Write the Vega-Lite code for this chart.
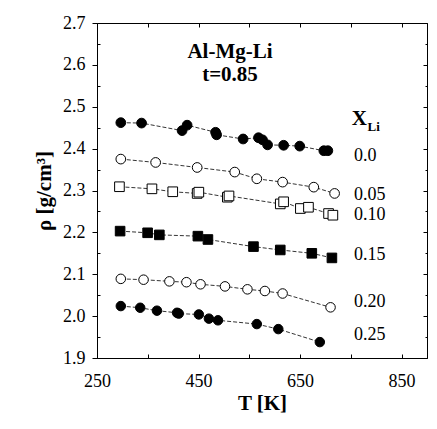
{
  "$schema": "https://vega.github.io/schema/vega-lite/v6.json",
  "autosize": "none",
  "width": 330,
  "height": 335,
  "padding": {"left": 97, "top": 23, "right": 10, "bottom": 71},
  "background": "white",
  "config": {
    "font": "Liberation Serif",
    "view": {"stroke": "black", "strokeWidth": 1},
    "text": {"font": "Liberation Serif"},
    "axis": {"grid": false, "domainColor": "black", "tickColor": "black", "labelColor": "black", "titleColor": "black", "labelFont": "Liberation Serif", "titleFont": "Liberation Serif", "labelFontSize": 18, "titleFontSize": 21, "titleFontWeight": "bold"}
  },
  "datasets": {
    "pts": [
      {"s": "0.0", "T": 296.9, "rho": 2.462},
      {"s": "0.0", "T": 337.8, "rho": 2.461},
      {"s": "0.0", "T": 417.6, "rho": 2.443},
      {"s": "0.0", "T": 427.5, "rho": 2.456},
      {"s": "0.0", "T": 483.6, "rho": 2.439},
      {"s": "0.0", "T": 485.6, "rho": 2.433},
      {"s": "0.0", "T": 537.8, "rho": 2.423},
      {"s": "0.0", "T": 568.1, "rho": 2.426},
      {"s": "0.0", "T": 576.0, "rho": 2.421},
      {"s": "0.0", "T": 586.0, "rho": 2.409},
      {"s": "0.0", "T": 617.6, "rho": 2.408},
      {"s": "0.0", "T": 649.3, "rho": 2.406},
      {"s": "0.0", "T": 696.8, "rho": 2.395},
      {"s": "0.0", "T": 704.7, "rho": 2.395},
      {"s": "0.05", "T": 296.9, "rho": 2.375},
      {"s": "0.05", "T": 365.5, "rho": 2.367},
      {"s": "0.05", "T": 447.3, "rho": 2.355},
      {"s": "0.05", "T": 521.3, "rho": 2.344},
      {"s": "0.05", "T": 564.8, "rho": 2.328},
      {"s": "0.05", "T": 615.6, "rho": 2.320},
      {"s": "0.05", "T": 677.0, "rho": 2.308},
      {"s": "0.05", "T": 718.0, "rho": 2.293},
      {"s": "0.10", "T": 294.2, "rho": 2.309},
      {"s": "0.10", "T": 358.2, "rho": 2.304},
      {"s": "0.10", "T": 399.2, "rho": 2.297},
      {"s": "0.10", "T": 447.3, "rho": 2.293},
      {"s": "0.10", "T": 450.6, "rho": 2.296},
      {"s": "0.10", "T": 506.7, "rho": 2.284},
      {"s": "0.10", "T": 510.0, "rho": 2.287},
      {"s": "0.10", "T": 611.0, "rho": 2.268},
      {"s": "0.10", "T": 617.6, "rho": 2.273},
      {"s": "0.10", "T": 650.6, "rho": 2.257},
      {"s": "0.10", "T": 666.5, "rho": 2.260},
      {"s": "0.10", "T": 706.1, "rho": 2.245},
      {"s": "0.10", "T": 714.6, "rho": 2.241},
      {"s": "0.15", "T": 295.5, "rho": 2.203},
      {"s": "0.15", "T": 349.7, "rho": 2.199},
      {"s": "0.15", "T": 372.8, "rho": 2.194},
      {"s": "0.15", "T": 448.7, "rho": 2.191},
      {"s": "0.15", "T": 468.5, "rho": 2.183},
      {"s": "0.15", "T": 558.2, "rho": 2.166},
      {"s": "0.15", "T": 611.0, "rho": 2.158},
      {"s": "0.15", "T": 673.1, "rho": 2.150},
      {"s": "0.15", "T": 712.7, "rho": 2.139},
      {"s": "0.20", "T": 296.9, "rho": 2.089},
      {"s": "0.20", "T": 341.7, "rho": 2.087},
      {"s": "0.20", "T": 392.6, "rho": 2.083},
      {"s": "0.20", "T": 426.2, "rho": 2.081},
      {"s": "0.20", "T": 453.9, "rho": 2.076},
      {"s": "0.20", "T": 502.1, "rho": 2.071},
      {"s": "0.20", "T": 546.3, "rho": 2.064},
      {"s": "0.20", "T": 580.7, "rho": 2.060},
      {"s": "0.20", "T": 615.6, "rho": 2.054},
      {"s": "0.20", "T": 710.0, "rho": 2.021},
      {"s": "0.25", "T": 296.9, "rho": 2.024},
      {"s": "0.25", "T": 335.1, "rho": 2.020},
      {"s": "0.25", "T": 368.1, "rho": 2.013},
      {"s": "0.25", "T": 407.7, "rho": 2.008},
      {"s": "0.25", "T": 411.0, "rho": 2.006},
      {"s": "0.25", "T": 450.6, "rho": 2.004},
      {"s": "0.25", "T": 470.4, "rho": 1.994},
      {"s": "0.25", "T": 488.3, "rho": 1.990},
      {"s": "0.25", "T": 564.8, "rho": 1.981},
      {"s": "0.25", "T": 607.1, "rho": 1.969},
      {"s": "0.25", "T": 688.9, "rho": 1.938}
    ],
    "serieslabels": [
      {"label": "0.0", "T": 756, "rho": 2.383},
      {"label": "0.05", "T": 756, "rho": 2.289},
      {"label": "0.10", "T": 756, "rho": 2.242},
      {"label": "0.15", "T": 756, "rho": 2.146},
      {"label": "0.20", "T": 756, "rho": 2.034},
      {"label": "0.25", "T": 756, "rho": 1.955}
    ],
    "titles": [
      {"label": "Al-Mg-Li", "T": 512, "rho": 2.631},
      {"label": "t=0.85", "T": 512, "rho": 2.576}
    ],
    "xsym": [{"label": "X", "T": 752, "rho": 2.471}],
    "xsub": [{"label": "Li", "T": 783, "rho": 2.452}]
  },
  "resolve": {"axis": {"x": "independent", "y": "independent"}},
  "layer": [
    {
      "data": {"name": "pts"},
      "mark": {"type": "line", "color": "black", "strokeWidth": 0.8, "strokeDash": [4, 2]},
      "encoding": {
        "x": {"field": "T", "type": "quantitative", "scale": {"domain": [250, 900], "nice": false, "zero": false},
              "axis": {"orient": "bottom", "title": "T [K]", "values": [250, 350, 450, 550, 650, 750, 850],
                       "labelExpr": "(datum.value - 250) % 200 == 0 ? datum.label : ''",
                       "tickSize": -4, "labelPadding": 18, "titlePadding": 2, "labelFlush": false}},
        "y": {"field": "rho", "type": "quantitative", "scale": {"domain": [1.9, 2.7], "nice": false, "zero": false},
              "axis": {"orient": "left", "title": "ρ [g/cm³]", "values": [1.9, 1.95, 2.0, 2.05, 2.1, 2.15, 2.2, 2.25, 2.3, 2.35, 2.4, 2.45, 2.5, 2.55, 2.6, 2.65, 2.7],
                       "format": ".1f",
                       "labelExpr": "abs(datum.value * 10 - round(datum.value * 10)) < 0.01 ? datum.label : ''",
                       "tickSize": {"condition": {"test": "abs(datum.value * 10 - round(datum.value * 10)) < 0.01", "value": 5}, "value": -3},
                       "labelPadding": 7, "titlePadding": 8, "labelFlush": false}},
        "detail": {"field": "s", "type": "nominal"}
      }
    },
    {
      "data": {"name": "pts"},
      "mark": {"type": "point", "stroke": "black", "strokeWidth": 1, "opacity": 1, "fillOpacity": 1},
      "encoding": {
        "x": {"field": "T", "type": "quantitative", "axis": {"orient": "top", "title": null, "labels": false, "values": [350, 450, 550, 650, 750, 850], "tickSize": -4}},
        "y": {"field": "rho", "type": "quantitative", "axis": {"orient": "right", "title": null, "labels": false, "values": [1.95, 2.0, 2.05, 2.1, 2.15, 2.2, 2.25, 2.3, 2.35, 2.4, 2.45, 2.5, 2.55, 2.6, 2.65],
              "tickSize": {"condition": {"test": "abs(datum.value * 10 - round(datum.value * 10)) < 0.01", "value": -4}, "value": -2}}},
        "shape": {"field": "s", "type": "nominal", "scale": {"domain": ["0.0", "0.05", "0.10", "0.15", "0.20", "0.25"], "range": ["circle", "circle", "square", "square", "circle", "circle"]}, "legend": null},
        "fill": {"field": "s", "type": "nominal", "scale": {"domain": ["0.0", "0.05", "0.10", "0.15", "0.20", "0.25"], "range": ["black", "white", "white", "black", "white", "black"]}, "legend": null},
        "size": {"field": "s", "type": "nominal", "scale": {"domain": ["0.0", "0.05", "0.10", "0.15", "0.20", "0.25"], "range": [95, 90, 95, 38, 90, 95]}, "legend": null}
      }
    },
    {
      "data": {"name": "serieslabels"},
      "mark": {"type": "text", "align": "left", "baseline": "middle", "fontSize": 18, "font": "Liberation Serif", "color": "black"},
      "encoding": {
        "x": {"field": "T", "type": "quantitative", "axis": null},
        "y": {"field": "rho", "type": "quantitative", "axis": null},
        "text": {"field": "label"}
      }
    },
    {
      "data": {"name": "titles"},
      "mark": {"type": "text", "align": "center", "baseline": "middle", "fontSize": 21, "fontWeight": "bold", "font": "Liberation Serif", "color": "black"},
      "encoding": {
        "x": {"field": "T", "type": "quantitative", "axis": null},
        "y": {"field": "rho", "type": "quantitative", "axis": null},
        "text": {"field": "label"}
      }
    },
    {
      "data": {"name": "xsym"},
      "mark": {"type": "text", "align": "left", "baseline": "middle", "fontSize": 21, "fontWeight": "bold", "font": "Liberation Serif", "color": "black"},
      "encoding": {
        "x": {"field": "T", "type": "quantitative", "axis": null},
        "y": {"field": "rho", "type": "quantitative", "axis": null},
        "text": {"field": "label"}
      }
    },
    {
      "data": {"name": "xsub"},
      "mark": {"type": "text", "align": "left", "baseline": "middle", "fontSize": 13, "fontWeight": "bold", "font": "Liberation Serif", "color": "black"},
      "encoding": {
        "x": {"field": "T", "type": "quantitative", "axis": null},
        "y": {"field": "rho", "type": "quantitative", "axis": null},
        "text": {"field": "label"}
      }
    }
  ]
}
